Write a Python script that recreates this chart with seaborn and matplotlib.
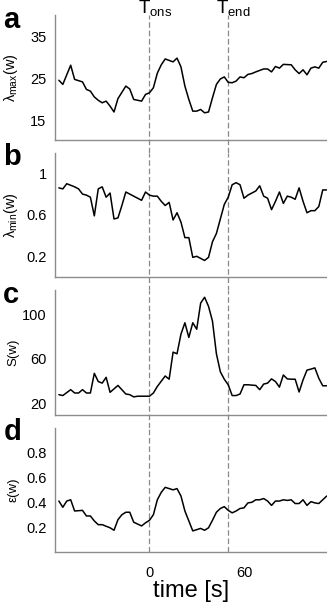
import matplotlib
matplotlib.use("Agg")
import matplotlib.pyplot as plt
import matplotlib.transforms as mtransforms
import seaborn as sns

# values
time_a = [-57.5, -55, -50, -47.5, -42.5, -40, -37.5, -35, -32.5, -30, -27.5, -25, -22.5, -20, -15,
          -12.5, -10, -5, -2.5, 0, 2.5, 5, 7.5, 10, 15, 17.5, 20, 22.5, 25, 27.5, 30, 32.5, 35, 37.5,
          40, 42.5, 45, 47.5, 50, 52.5, 55, 57.5, 60, 62.5, 65, 67.5, 72.5, 75, 77.5, 80, 82.5, 85,
          90, 92.5, 95, 97.5, 100, 102.5, 105, 107.5, 110, 112.5]
lam_max = [24.6, 23.6, 28.2, 24.8, 24.2, 22.4, 22.0, 20.6, 19.8, 19.2, 19.6, 18.4, 17.0, 20.2, 23.2,
           22.5, 20.0, 19.6, 21.2, 21.6, 22.8, 26.3, 28.3, 29.7, 29.0, 29.9, 27.8, 23.2, 20.0, 17.2,
           17.2, 17.6, 16.8, 17.0, 20.4, 23.6, 24.9, 25.4, 24.1, 24.0, 24.4, 25.4, 25.2, 26.0, 26.2,
           26.6, 27.3, 27.3, 26.6, 27.9, 27.5, 28.4, 28.3, 27.1, 26.2, 27.1, 25.9, 27.5, 27.8, 27.5,
           28.9, 29.1]

time_b = [-57.5, -55, -52.5, -47.5, -45, -42.5, -40, -37.5, -35, -32.5, -30, -27.5, -25, -22.5, -20,
          -17.5, -15, -12.5, -7.5, -5, -2.5, 0, 2.5, 5, 7.5, 10, 12.5, 15, 17.5, 20, 22.5, 25, 27.5,
          30, 32.5, 35, 37.5, 40, 42.5, 45, 47.5, 50, 52.5, 55, 57.5, 60, 62.5, 65, 67.5, 70, 72.5,
          75, 77.5, 80, 82.5, 85, 87.5, 90, 92.5, 95, 97.5, 100, 102.5, 105, 107.5, 110, 112.5]
lam_min = [0.86, 0.85, 0.90, 0.87, 0.85, 0.80, 0.79, 0.77, 0.59, 0.85, 0.87, 0.77, 0.81, 0.56, 0.57,
           0.69, 0.82, 0.80, 0.76, 0.74, 0.82, 0.79, 0.78, 0.78, 0.73, 0.69, 0.72, 0.55, 0.62, 0.53,
           0.38, 0.38, 0.19, 0.20, 0.18, 0.16, 0.19, 0.34, 0.42, 0.56, 0.70, 0.77, 0.89, 0.91, 0.89,
           0.76, 0.79, 0.81, 0.83, 0.88, 0.78, 0.76, 0.65, 0.73, 0.82, 0.71, 0.78, 0.77, 0.75, 0.86,
           0.73, 0.62, 0.64, 0.64, 0.68, 0.84, 0.84]

time_c = [-57.5, -55, -50, -47.5, -45, -42.5, -40, -37.5, -35, -32.5, -30, -27.5, -25, -20, -15,
          -12.5, -10, -7.5, -2.5, 0, 2.5, 5, 10, 12.5, 15, 17.5, 20, 22.5, 25, 27.5, 30, 32.5, 35,
          37.5, 40, 42.5, 45, 47.5, 50, 52.5, 55, 57.5, 60, 62.5, 67.5, 70, 72.5, 75, 77.5, 80, 82.5,
          85, 87.5, 90, 92.5, 95, 97.5, 100, 102.5, 105, 107.5, 110, 112.5]
s_w = [27.9, 27.1, 32.4, 29.4, 29.4, 32.4, 29.4, 29.4, 47.1, 39.7, 38.3, 43.5, 30.0, 36.2, 28.5,
       27.9, 25.9, 26.5, 26.5, 26.5, 29.4, 35.3, 44.7, 41.8, 66.2, 64.7, 82.4, 92.6, 79.4, 92.6,
       86.8, 110.3, 115.6, 107.4, 94.1, 64.7, 48.5, 41.8, 36.8, 27.1, 27.1, 28.5, 36.8, 36.8, 36.2,
       32.4, 37.4, 38.3, 42.1, 39.7, 34.7, 45.6, 42.1, 41.8, 41.8, 30.3, 41.2, 50.0, 50.9, 52.0,
       42.7, 35.9, 35.9]

time_d = [-57.5, -55, -52.5, -50, -47.5, -42.5, -40, -37.5, -35, -32.5, -30, -25, -22.5, -20, -17.5,
          -15, -12.5, -10, -5, -2.5, 0, 2.5, 5, 7.5, 10, 15, 17.5, 20, 22.5, 25, 27.5, 30, 32.5, 35,
          37.5, 40, 42.5, 45, 47.5, 50, 52.5, 55, 57.5, 60, 62.5, 65, 67.5, 70, 72.5, 75, 77.5, 80,
          82.5, 85, 87.5, 90, 92.5, 95, 97.5, 100, 102.5, 105, 107.5, 110, 112.5]
eps_w = [0.41, 0.36, 0.41, 0.42, 0.33, 0.335, 0.29, 0.29, 0.25, 0.22, 0.22, 0.195, 0.175, 0.26, 0.30,
         0.32, 0.32, 0.24, 0.21, 0.235, 0.255, 0.30, 0.42, 0.48, 0.52, 0.50, 0.51, 0.45, 0.33, 0.25,
         0.17, 0.18, 0.19, 0.175, 0.195, 0.255, 0.32, 0.35, 0.365, 0.335, 0.315, 0.33, 0.35, 0.355,
         0.395, 0.40, 0.42, 0.42, 0.43, 0.41, 0.375, 0.41, 0.41, 0.42, 0.415, 0.42, 0.39, 0.39, 0.42,
         0.375, 0.405, 0.395, 0.39, 0.42, 0.45]

panel_letters = ["a", "b", "c", "d"]
y_labels = ["λ$_{\\mathregular{max}}$(w)", "λ$_{\\mathregular{min}}$(w)", "S(w)", "ε(w)"]
y_ticks = [[15, 25, 35], [0.2, 0.6, 1.0], [20, 60, 100], [0.2, 0.4, 0.6, 0.8]]
y_ticklabels = [["15", "25", "35"], ["0.2", "0.6", "1"], ["20", "60", "100"],
                ["0.2", "0.4", "0.6", "0.8"]]
y_limits = [(10.4, 40.2), (0.0, 1.2), (10, 122), (0.0, 1.0)]
x_ticks = [0, 60]
event_times = [0, 50]
event_labels = ["T$_{\\mathregular{ons}}$", "T$_{\\mathregular{end}}$"]

sns.set_style("white")
plt.rcParams["font.family"] = ["Liberation Sans", "DejaVu Sans"]
plt.rcParams["mathtext.fontset"] = "custom"
plt.rcParams["mathtext.rm"] = "Liberation Sans"
plt.rcParams["text.color"] = "black"
plt.rcParams["axes.labelcolor"] = "black"
plt.rcParams["xtick.labelcolor"] = "black"
plt.rcParams["ytick.labelcolor"] = "black"

spine_gray = "#8c8c8c"

fig, axes = plt.subplots(4, 1, figsize=(3.27, 6.04), dpi=100, sharex=True)
fig.subplots_adjust(left=0.168, right=0.999, top=0.975, bottom=0.086, hspace=0.105)

series = [(time_a, lam_max), (time_b, lam_min), (time_c, s_w), (time_d, eps_w)]

for i, ax in enumerate(axes):
    tx, vals = series[i]
    sns.lineplot(x=tx, y=vals, ax=ax, color="black", linewidth=1.1)

    ax.set_xlim(-60, 112.5)
    ax.set_ylim(*y_limits[i])
    ax.set_yticks(y_ticks[i])
    ax.set_yticklabels(y_ticklabels[i])
    ax.set_xticks(x_ticks)

    sns.despine(ax=ax)
    for side in ["left", "bottom"]:
        ax.spines[side].set_color(spine_gray)
        ax.spines[side].set_linewidth(1.0)

    ax.tick_params(axis="y", length=0, pad=6, labelsize=10.5, labelcolor="black")
    ax.tick_params(axis="x", length=4, width=1, color=spine_gray, direction="out",
                   pad=6, labelsize=10.5, labelcolor="black")

    ax.set_ylabel(y_labels[i], fontsize=10.5 if i < 2 else 9.5, color="black")
    ax.yaxis.set_label_coords(-0.13, 0.5)

    ax.text(-0.19, 0.9, panel_letters[i], transform=ax.transAxes, fontsize=21,
            fontweight="bold", ha="left", va="baseline", color="black")

    # dashed event markers, stretched across the gap to the next panel
    lower = 0 if i == len(axes) - 1 else -0.11
    for t in event_times:
        ax.axvline(t, ymin=lower, ymax=1, color="#8a8a8a", linewidth=0.9,
                   linestyle=(0, (4.5, 2.2)), clip_on=False, zorder=1)

trans = mtransforms.blended_transform_factory(axes[0].transData, axes[0].transAxes)
for t, lab in zip(event_times, event_labels):
    axes[0].text(t - 7.5, 1.01, lab, transform=trans, fontsize=13.5, ha="left",
                 va="baseline", color="black")

axes[-1].set_xlabel("time [s]", fontsize=17, labelpad=0, color="black")

plt.savefig("out.png", dpi=100)
plt.close()
